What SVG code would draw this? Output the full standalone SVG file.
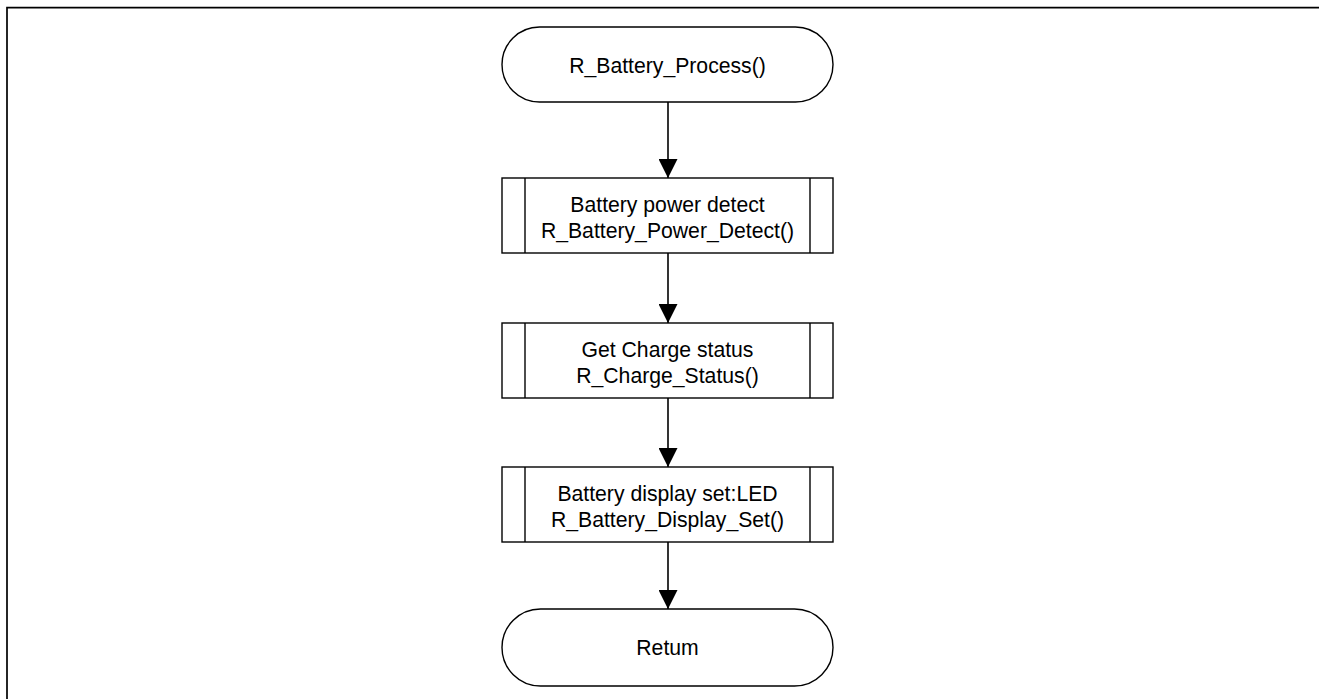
<svg xmlns="http://www.w3.org/2000/svg" width="1319" height="699" viewBox="0 0 1319 699">
<defs>
<style>
.frame{fill:none;stroke:#000;stroke-width:1.7}
.shape{fill:#fff;stroke:#000;stroke-width:1.4}
.line{fill:none;stroke:#000;stroke-width:1.4}
.conn{fill:none;stroke:#000;stroke-width:1.6}
text{font-family:"Liberation Sans",Arial,sans-serif;font-size:21.2px;fill:#000;text-anchor:middle}
</style>
<marker id="arrow" markerUnits="userSpaceOnUse" markerWidth="20" markerHeight="19" refX="19" refY="9.5" orient="auto">
<path d="M0,0 L19,9.5 L0,19 Z" fill="#000"/>
</marker>
</defs>
<rect width="1319" height="699" fill="#fff"/>
<path class="frame" d="M7,699 V7.6 H1319"/>
<g id="connectors">
<line class="conn" x1="668" y1="102" x2="668" y2="178" marker-end="url(#arrow)"/>
<line class="conn" x1="668" y1="253" x2="668" y2="323" marker-end="url(#arrow)"/>
<line class="conn" x1="668" y1="398" x2="668" y2="467" marker-end="url(#arrow)"/>
<line class="conn" x1="668" y1="542" x2="668" y2="609" marker-end="url(#arrow)"/>
</g>
<g id="start">
<rect class="shape" x="502" y="27" width="331" height="75" rx="37.5" ry="37.5"/>
<text x="667.5" y="72.5">R_Battery_Process()</text>
</g>
<g id="power-detect">
<rect class="shape" x="502" y="178" width="331" height="75"/>
<line class="line" x1="525" y1="178" x2="525" y2="253"/>
<line class="line" x1="810" y1="178" x2="810" y2="253"/>
<text x="667.5" y="212">Battery power detect</text>
<text x="667.5" y="237.5">R_Battery_Power_Detect()</text>
</g>
<g id="charge-status">
<rect class="shape" x="502" y="323" width="331" height="75"/>
<line class="line" x1="525" y1="323" x2="525" y2="398"/>
<line class="line" x1="810" y1="323" x2="810" y2="398"/>
<text x="667.5" y="357">Get Charge status</text>
<text x="667.5" y="382.5">R_Charge_Status()</text>
</g>
<g id="display-set">
<rect class="shape" x="502" y="467" width="331" height="75"/>
<line class="line" x1="525" y1="467" x2="525" y2="542"/>
<line class="line" x1="810" y1="467" x2="810" y2="542"/>
<text x="667.5" y="501">Battery display set:LED</text>
<text x="667.5" y="526.5">R_Battery_Display_Set()</text>
</g>
<g id="return">
<rect class="shape" x="502" y="609" width="331" height="77" rx="38.5" ry="38.5"/>
<text x="667.5" y="655">Retum</text>
</g>
</svg>
